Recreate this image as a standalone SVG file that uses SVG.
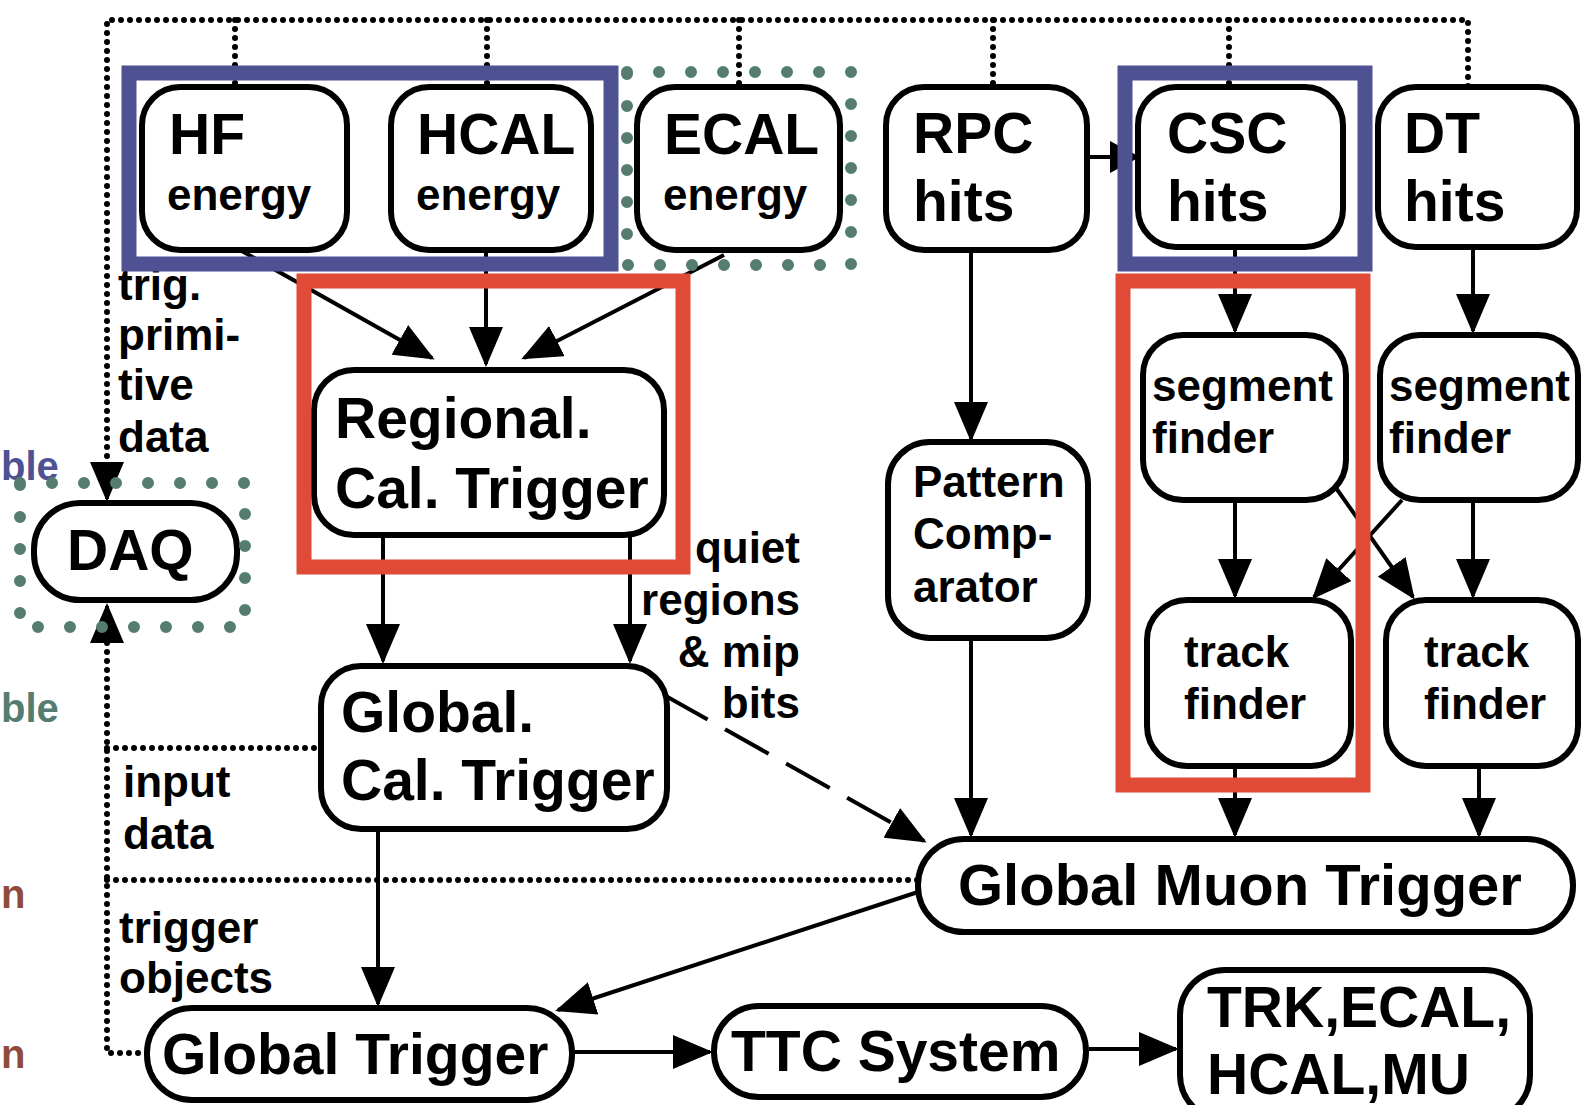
<svg xmlns="http://www.w3.org/2000/svg" width="1581" height="1105" viewBox="0 0 1581 1105">
<style>
.node rect{fill:#fff;stroke:#000;stroke-width:6}
.big{font-family:"Liberation Sans",Arial,sans-serif;font-weight:bold;font-size:57px;fill:#000}
.sm{font-family:"Liberation Sans",Arial,sans-serif;font-weight:bold;font-size:44px;fill:#000}
.conn{stroke:#000;stroke-width:4;fill:none}
.arr{marker-end:url(#ah)}
.dash{stroke-dasharray:50 20}
.dot{stroke:#000;stroke-width:6;stroke-linecap:round;stroke-dasharray:0 9;fill:none}
.gdot{stroke:#557c70;stroke-width:12;stroke-linecap:round;stroke-dasharray:0 32;fill:none}
.blue{fill:none;stroke:#4e5192;stroke-width:15}
.red{fill:none;stroke:#e04b38;stroke-width:15}
.cut{font-family:"Liberation Sans",Arial,sans-serif;font-weight:bold;font-size:40px}
</style>
<defs>
<marker id="ah" viewBox="0 0 40 34" refX="37" refY="17" markerWidth="40" markerHeight="34" orient="auto" markerUnits="userSpaceOnUse"><path d="M0,0 L40,17 L0,34 z" fill="#000"/></marker>
<marker id="ahs" viewBox="0 0 30 32" refX="28" refY="16" markerWidth="30" markerHeight="32" orient="auto" markerUnits="userSpaceOnUse"><path d="M0,0 L30,16 L0,32 z" fill="#000"/></marker>
</defs>
<rect width="1581" height="1105" fill="#fff"/>

<g id="side-labels">
<text class="cut" x="1" y="480" fill="#4e5192">ble</text>
<text class="cut" x="1" y="722" fill="#557c70">ble</text>
<text class="cut" x="1" y="908" fill="#8e4b3a">n</text>
<text class="cut" x="1" y="1068" fill="#8e4b3a">n</text>
</g>

<g id="connectors">
<path class="dot" d="M1468,86 V20 H107 V468"/>
<path class="conn" d="M107,470 V499" style="marker-end:url(#ah)"/>
<path class="dot" d="M147,1053 H107 V640"/>
<path class="conn" d="M107,640 V606" style="marker-end:url(#ah)"/>
<path class="dot" d="M235,20 V86 M487,20 V86 M739,20 V86 M993,20 V86 M1229,20 V86"/>
<path class="dot" d="M107,748 H321 M107,880 H918"/>
<line class="conn arr" x1="240" y1="250" x2="432" y2="358"/>
<line class="conn arr" x1="486" y1="252" x2="486" y2="364"/>
<line class="conn arr" x1="724" y1="255" x2="524" y2="358"/>
<line class="conn arr" x1="383" y1="537" x2="383" y2="661"/>
<line class="conn arr" x1="630" y1="537" x2="630" y2="661"/>
<line class="conn dash arr" x1="664" y1="695" x2="924" y2="841"/>
<line class="conn arr" x1="378" y1="830" x2="378" y2="1004"/>
<line class="conn" x1="1088" y1="157" x2="1138" y2="157" style="marker-end:url(#ahs)"/>
<line class="conn arr" x1="971" y1="252" x2="971" y2="439"/>
<line class="conn arr" x1="971" y1="638" x2="971" y2="835"/>
<line class="conn arr" x1="1235" y1="250" x2="1235" y2="331"/>
<line class="conn arr" x1="1473" y1="250" x2="1473" y2="331"/>
<line class="conn arr" x1="1235" y1="500" x2="1235" y2="596"/>
<line class="conn arr" x1="1473" y1="500" x2="1473" y2="596"/>
<line class="conn arr" x1="1336" y1="488" x2="1413" y2="597"/>
<line class="conn arr" x1="1402" y1="500" x2="1314" y2="597"/>
<line class="conn arr" x1="1235" y1="766" x2="1235" y2="835"/>
<line class="conn arr" x1="1479" y1="766" x2="1479" y2="835"/>
<line class="conn arr" x1="918" y1="892" x2="558" y2="1010"/>
<line class="conn arr" x1="572" y1="1052" x2="710" y2="1052"/>
<line class="conn arr" x1="1089" y1="1049" x2="1176" y2="1049"/>
</g>

<g id="labels">
<text class="sm" x="118" y="300">trig.</text>
<text class="sm" x="118" y="350">primi-</text>
<text class="sm" x="118" y="400">tive</text>
<text class="sm" x="118" y="452">data</text>
<text class="sm" x="800" y="563" text-anchor="end">quiet</text>
<text class="sm" x="800" y="615" text-anchor="end">regions</text>
<text class="sm" x="800" y="667" text-anchor="end">&amp; mip</text>
<text class="sm" x="800" y="718" text-anchor="end">bits</text>
<text class="sm" x="123" y="797">input</text>
<text class="sm" x="123" y="849">data</text>
<text class="sm" x="119" y="943">trigger</text>
<text class="sm" x="119" y="993">objects</text>
</g>

<g id="n-hf" class="node"><rect x="142" y="87" width="205" height="163" rx="38"/><text class="big" x="169" y="154">HF</text><text class="sm" x="167" y="210">energy</text></g>
<g id="n-hcal" class="node"><rect x="391" y="87" width="200" height="163" rx="38"/><text class="big" x="417" y="154">HCAL</text><text class="sm" x="416" y="210">energy</text></g>
<g id="n-ecal" class="node"><rect x="637" y="87" width="203" height="163" rx="38"/><text class="big" x="664" y="154">ECAL</text><text class="sm" x="663" y="210">energy</text></g>
<g id="n-rpc" class="node"><rect x="886" y="87" width="201" height="163" rx="38"/><text class="big" x="913" y="153">RPC</text><text class="big" x="913" y="221">hits</text></g>
<g id="n-csc" class="node"><rect x="1138" y="87" width="205" height="160" rx="38"/><text class="big" x="1167" y="153">CSC</text><text class="big" x="1167" y="221">hits</text></g>
<g id="n-dt" class="node"><rect x="1378" y="87" width="199" height="160" rx="38"/><text class="big" x="1404" y="153">DT</text><text class="big" x="1404" y="221">hits</text></g>
<g id="n-rct" class="node"><rect x="314" y="370" width="350" height="165" rx="40"/><text class="big" x="335" y="438">Regional.</text><text class="big" x="335" y="508">Cal. Trigger</text></g>
<g id="n-daq" class="node"><rect x="34" y="503" width="203" height="97" rx="46"/><text class="big" x="67" y="570">DAQ</text></g>
<g id="n-gct" class="node"><rect x="321" y="666" width="346" height="163" rx="40"/><text class="big" x="341" y="732">Global.</text><text class="big" x="341" y="800">Cal. Trigger</text></g>
<g id="n-pc" class="node"><rect x="888" y="442" width="200" height="196" rx="42"/><text class="sm" x="913" y="497">Pattern</text><text class="sm" x="913" y="549">Comp-</text><text class="sm" x="913" y="602">arator</text></g>
<g id="n-seg-csc" class="node"><rect x="1143" y="335" width="203" height="165" rx="40"/><text class="sm" x="1152" y="401">segment</text><text class="sm" x="1152" y="453">finder</text></g>
<g id="n-seg-dt" class="node"><rect x="1380" y="335" width="198" height="165" rx="40"/><text class="sm" x="1389" y="401">segment</text><text class="sm" x="1389" y="453">finder</text></g>
<g id="n-trk-csc" class="node"><rect x="1147" y="600" width="204" height="166" rx="40"/><text class="sm" x="1184" y="667">track</text><text class="sm" x="1184" y="719">finder</text></g>
<g id="n-trk-dt" class="node"><rect x="1386" y="600" width="192" height="166" rx="40"/><text class="sm" x="1424" y="667">track</text><text class="sm" x="1424" y="719">finder</text></g>
<g id="n-gmt" class="node"><rect x="918" y="839" width="655" height="93" rx="46"/><text class="big" x="958" y="905" style="font-size:58px">Global Muon Trigger</text></g>
<g id="n-gt" class="node"><rect x="147" y="1008" width="425" height="92" rx="45"/><text class="big" x="162" y="1074">Global Trigger</text></g>
<g id="n-ttc" class="node"><rect x="714" y="1006" width="372" height="91" rx="45"/><text class="big" x="731" y="1071">TTC System</text></g>
<g id="n-det" class="node"><rect x="1180" y="970" width="350" height="150" rx="45"/><text class="big" x="1207" y="1027">TRK,ECAL,</text><text class="big" x="1207" y="1094">HCAL,MU</text></g>

<g id="highlights">
<rect class="blue" x="129" y="73" width="482" height="191"/>
<rect class="blue" x="1125" y="73" width="240" height="191"/>
<rect class="red" x="304" y="281" width="379" height="286"/>
<rect class="red" x="1123" y="281" width="240" height="504"/>
<rect class="gdot" x="627" y="72" width="224" height="193"/>
<rect class="gdot" x="20" y="483" width="225" height="144"/>
</g>
</svg>
